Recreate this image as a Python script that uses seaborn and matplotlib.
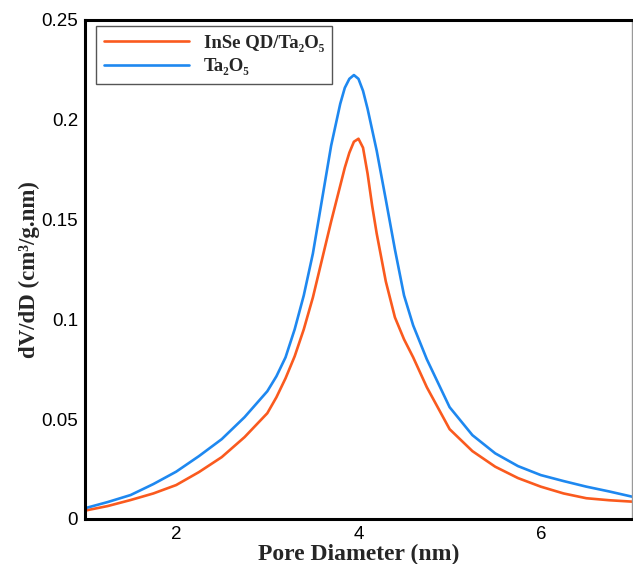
import numpy as np
import pandas as pd
import matplotlib
matplotlib.use("Agg")
import matplotlib.pyplot as plt
from matplotlib.ticker import MultipleLocator, FuncFormatter
import seaborn as sns

# 데이터
pore_d = [1.0, 1.25, 1.5, 1.75, 2.0, 2.25, 2.5, 2.75, 3.0, 3.1, 3.2, 3.3, 3.4,
          3.5, 3.6, 3.7, 3.8, 3.85, 3.9, 3.95, 4.0, 4.05, 4.1, 4.15, 4.2, 4.3,
          4.4, 4.5, 4.6, 4.75, 5.0, 5.25, 5.5, 5.75, 6.0, 6.25, 6.5, 6.75, 7.0]
dv_inse = [0.0042, 0.0065, 0.0095, 0.0128, 0.0170, 0.0235, 0.0310, 0.0410,
           0.0530, 0.0610, 0.0705, 0.0815, 0.0950, 0.1110, 0.1300, 0.1490,
           0.1670, 0.1760, 0.1835, 0.1890, 0.1905, 0.1860, 0.1730, 0.1570,
           0.1430, 0.1190, 0.1010, 0.0900, 0.0810, 0.0660, 0.0450, 0.0340,
           0.0262, 0.0205, 0.0162, 0.0128, 0.0104, 0.0094, 0.0087]
dv_ta2o5 = [0.0054, 0.0085, 0.0120, 0.0175, 0.0237, 0.0315, 0.0400, 0.0510,
            0.0640, 0.0715, 0.0810, 0.0950, 0.1120, 0.1330, 0.1600, 0.1870,
            0.2080, 0.2160, 0.2205, 0.2224, 0.2205, 0.2145, 0.2055, 0.1950,
            0.1845, 0.1600, 0.1350, 0.1120, 0.0970, 0.0800, 0.0560, 0.0420,
            0.0329, 0.0265, 0.0220, 0.0190, 0.0162, 0.0138, 0.0112]
labels = ["InSe QD/Ta₂O₅", "Ta₂O₅"]
colors = ["#FA5A1E", "#1E88F0"]

df = pd.concat([
    pd.DataFrame({"d": pore_d, "v": dv_inse, "sample": labels[0]}),
    pd.DataFrame({"d": pore_d, "v": dv_ta2o5, "sample": labels[1]}),
])

sns.set_style("white")
plt.rcParams["font.family"] = ["Liberation Sans", "DejaVu Sans"]
serif = ["Liberation Serif", "DejaVu Serif"]

fig = plt.figure(figsize=(6.33, 5.64), dpi=100)
ax = fig.add_axes([0.1343, 0.0798, 0.864, 0.8848])

sns.lineplot(data=df, x="d", y="v", hue="sample", palette=colors,
             linewidth=1.9, ax=ax, legend=False)

ax.set_xlim(1, 7)
ax.set_ylim(0, 0.25)
ax.xaxis.set_major_locator(MultipleLocator(2))
ax.xaxis.set_minor_locator(MultipleLocator(0.5))
ax.yaxis.set_major_locator(MultipleLocator(0.05))
ax.yaxis.set_minor_locator(MultipleLocator(0.01))
ax.yaxis.set_major_formatter(FuncFormatter(lambda v, p: "%g" % round(v, 3)))
ax.xaxis.set_major_formatter(FuncFormatter(lambda v, p: "%g" % v))

ax.tick_params(which="major", direction="in", length=8, width=2,
               labelsize=13.5, pad=5, colors="black")
ax.tick_params(which="minor", direction="in", length=5, width=1)
ax.tick_params(top=False, right=False, which="both")

for s in ["left", "bottom", "top"]:
    ax.spines[s].set_linewidth(2.2)
    ax.spines[s].set_color("black")
ax.spines["right"].set_linewidth(1.0)
ax.spines["right"].set_color("#999999")

ax.set_xlabel("Pore Diameter (nm)", family=serif, fontweight="bold",
              fontsize=17, labelpad=1)
ax.set_ylabel("dV/dD (cm³/g.nm)", family=serif, fontweight="bold",
              fontsize=16.5, labelpad=1)

handles = [plt.Line2D([], [], color=c, lw=1.9) for c in colors]
leg = ax.legend(handles, labels, loc="upper left", bbox_to_anchor=(0.02, 0.988),
                prop={"family": serif, "weight": "bold", "size": 13.5},
                handlelength=4.5, frameon=True, fancybox=False, framealpha=1,
                borderpad=0.45, labelspacing=0.35, handletextpad=0.8,
                borderaxespad=0)
leg.get_frame().set_edgecolor("#555555")
leg.get_frame().set_linewidth(1.0)

fig.savefig("out.png", dpi=100)
